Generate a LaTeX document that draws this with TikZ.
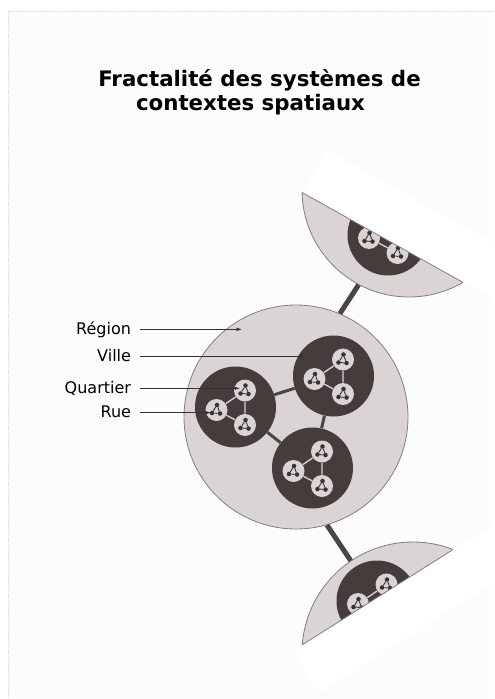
\documentclass[tikz,border=0pt]{standalone}
\usepackage{fontspec}
\setmainfont{DejaVu Sans}
\usetikzlibrary{arrows.meta}
\definecolor{pagebg}{HTML}{FCFCFC}
\definecolor{regfill}{HTML}{DAD4D4}
\definecolor{regline}{HTML}{857D7D}
\definecolor{villefill}{HTML}{463C3C}
\definecolor{ruedot}{HTML}{3A3232}
\definecolor{linkdark}{HTML}{4A4545}
\tikzset{
  region/.style={circle,draw=regline,line width=0.6pt,fill=regfill,inner sep=0pt,minimum size=#1},
  ville/.style={circle,fill=villefill,inner sep=0pt,minimum size=60.75pt},
  quart/.style={circle,fill=regfill,inner sep=0pt,minimum size=16.5pt},
  rue/.style={circle,fill=ruedot,inner sep=0pt,minimum size=3.4pt},
  ruelink/.style={draw=ruedot,line width=0.7pt},
  qlink/.style={draw=regfill,line width=1pt},
  vlink/.style={draw=linkdark,line width=2.25pt},
  rlink/.style={draw=linkdark,line width=3.75pt},
  lbl/.style={anchor=east,inner sep=0pt,outer xsep=6.75pt,text height=7.5pt,text depth=0pt,font=\fontsize{12}{14}\selectfont},
  titre/.style={anchor=base,inner sep=0pt,font=\bfseries\fontsize{16}{19}\selectfont},
  pointer/.style={draw=black!80,line width=0.5pt,-{Latex[length=4pt,width=2.6pt]}},
}
\newcommand{\quartier}[2]{%
  \node[quart] (#1) at (#2) {};
  \node[rue] (#1a) at ([shift={(0.5,-5)}]#1) {};
  \node[rue] (#1b) at ([shift={(-4.5,3)}]#1) {};
  \node[rue] (#1c) at ([shift={(3.5,3.5)}]#1) {};
  \path[ruelink] (#1a)--(#1b) (#1b)--(#1c) (#1c)--(#1a);
}
\newcommand{\ville}[2]{%
  \node[ville] (#1) at (#2) {};
  \quartier{#1q1}{[shift={(9.5,-16.5)}]#1}
  \quartier{#1q2}{[shift={(-19,3)}]#1}
  \quartier{#1q3}{[shift={(9.5,18)}]#1}
  \path[qlink] (#1q1)--(#1q2) (#1q2)--(#1q3) (#1q3)--(#1q1);
}
\begin{document}
\begin{tikzpicture}[x=0.75pt,y=-0.75pt]
\useasboundingbox (0,0) rectangle (494,699);
\path[draw=none,fill=pagebg] (8,11) rectangle (494,699);
\draw[densely dotted,black!15,line width=0.4pt] (494,11) -- (8,11) -- (8,699);
\node[titre] (titreA) at (259.5,87) {Fractalité des systèmes de};
\node[titre] (titreB) at (250.5,110) {contextes spatiaux};

\begin{scope}
\clip (-46,-2) -- (652,388) -- (457,737) -- (-241,347) -- cycle;
\node[region=160.5pt] (regN) at (409,190) {};
\ville{vN}{388,235}
\end{scope}
\path[draw=none,fill=white] (303,193) -- (327,150) -- (676,345) -- (652,388) -- cycle;
\draw[regline,line width=0.6pt] (302,192.5) -- (463,282.4);

\begin{scope}
\clip (-36,859) -- (640,431) -- (426,93) -- (-250,521) -- cycle;
\node[region=166.5pt] (regS) at (413,653) {};
\ville{vS}{377,601}
\end{scope}
\path[draw=none,fill=white] (293,652) -- (319,693) -- (657,480) -- (631,438) -- cycle;
\draw[regline,line width=0.6pt] (302.3,644.8) -- (452.9,549.6);

\node[region=168pt] (reg) at (296,417) {};
\ville{vA}{235.5,407}
\ville{vB}{333.5,376}
\ville{vC}{312.5,468}
\path[vlink] (vA)--(vB) (vB)--(vC) (vC)--(vA);
\path[rlink] (reg.67.6)--(regN.242.3) (reg.286.3)--(regS.124.1);

\node[lbl] (lRegion) at (140,329.3) {Région};
\node[lbl] (lVille) at (140,356.7) {Ville};
\node[lbl] (lQuartier) at (140,388.3) {Quartier};
\node[lbl] (lRue) at (140,412.7) {Rue};
\coordinate (pRegion) at (242,329.3);
\coordinate (pVille) at (305,356.7);
\coordinate (pQuartier) at (240,388.3);
\coordinate (pRue) at (211,412.7);
\draw[pointer] (lRegion.east) -- (pRegion);
\draw[pointer] (lVille.east) -- (pVille);
\draw[pointer] (lQuartier.east) -- (pQuartier);
\draw[pointer] (lRue.east) -- (pRue);
\end{tikzpicture}
\end{document}
